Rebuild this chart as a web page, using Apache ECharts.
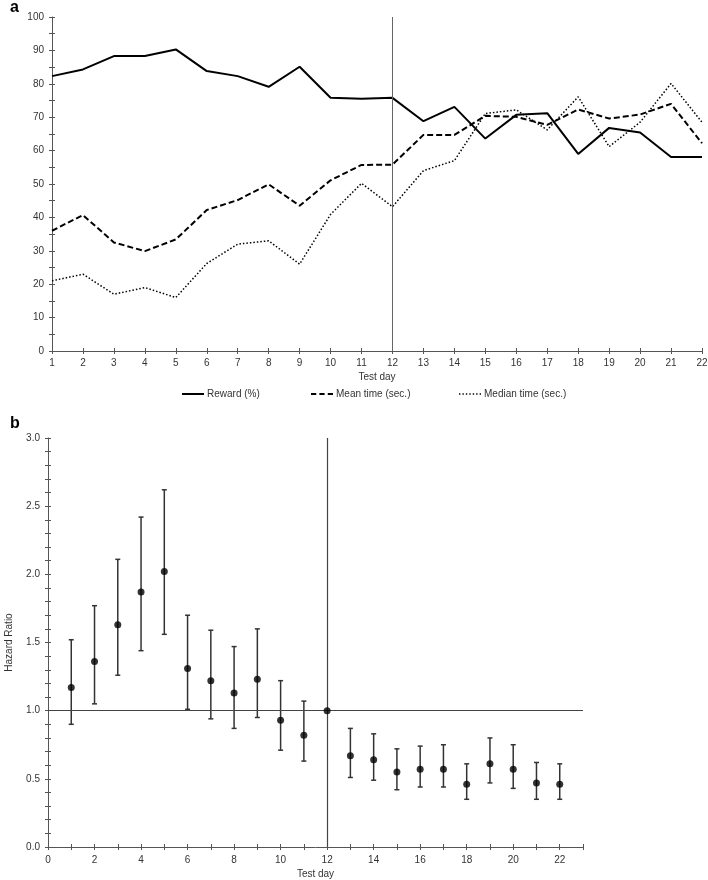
<!DOCTYPE html>
<html>
<head>
<meta charset="utf-8">
<script src="https://cdn.jsdelivr.net/npm/echarts@6/dist/echarts.min.js"></script>
<style>html,body{margin:0;padding:0;background:#fff}#c{width:708px;height:880px}</style>
</head>
<body>
<div id="c"></div>
<script>
// Panel a data
var days = ['1','2','3','4','5','6','7','8','9','10','11','12','13','14','15','16','17','18','19','20','21','22'];
var reward = [82.3,84.3,88.3,88.3,90.3,83.8,82.3,79.1,85.1,75.8,75.5,75.8,68.8,73.1,63.6,70.7,71.2,59.0,66.8,65.4,58.1,58.1];
var meanTime = [36.0,40.7,32.5,29.9,33.4,42.2,45.2,49.9,43.5,51.1,55.7,55.8,64.7,64.7,70.4,70.1,67.7,72.3,69.6,70.8,74.0,62.2];
var medianTime = [21.0,23.0,17.0,19.0,16.0,26.2,32.0,33.0,26.0,40.9,50.2,43.2,54.0,57.0,71.1,72.2,66.2,76.1,61.2,68.5,80.1,68.5];
// Panel b data
var hrDays = [1,2,3,4,5,6,7,8,9,10,11,12,13,14,15,16,17,18,19,20,21,22];
var hr =      [1.17,1.36,1.63,1.87,2.02,1.31,1.22,1.13,1.23,0.93,0.82,1.00,0.67,0.64,0.55,0.57,0.57,0.46,0.61,0.57,0.47,0.46];
var hrLower = [0.90,1.05,1.26,1.44,1.56,1.01,0.94,0.87,0.95,0.71,0.63,null,0.51,0.49,0.42,0.44,0.44,0.35,0.47,0.43,0.35,0.35];
var hrUpper = [1.52,1.77,2.11,2.42,2.62,1.70,1.59,1.47,1.60,1.22,1.07,null,0.87,0.83,0.72,0.74,0.75,0.61,0.80,0.75,0.62,0.61];

var FONT = 'Liberation Sans, Arial, sans-serif';
var AX = '#555';
var LBL = {color:'#333', fontSize:10, fontFamily:FONT};
var NAME = {color:'#333', fontSize:10, fontFamily:FONT};

var chart = echarts.init(document.getElementById('c'));

var errData = [];
for (var i=0;i<hrDays.length;i++){ if (hrLower[i]!=null) errData.push([hrDays[i], hrLower[i], hrUpper[i]]); }
var hrData = hrDays.map(function(d,i){return [d, hr[i]];});

function crossCopy(ax, pos){
  var c = {};
  for (var k in ax) c[k] = ax[k];
  delete c.name;
  c.position = pos;
  c.axisLabel = {show:false};
  c.axisLine = {show:false};
  c.axisTick = {show:true, inside:true, length:3, lineStyle:{color:AX}};
  return c;
}

var xa0 = {gridIndex:0, type:'category', data:days, boundaryGap:false, position:'bottom',
  axisLine:{lineStyle:{color:AX, width:1}}, axisTick:{length:3, lineStyle:{color:AX}},
  axisLabel:Object.assign({margin:7, interval:0}, LBL), splitLine:{show:false},
  name:'Test day', nameLocation:'middle', nameGap:21, nameTextStyle:NAME};
var ya0 = {gridIndex:0, type:'value', min:0, max:100, interval:5, position:'left',
  axisLine:{show:true, lineStyle:{color:AX}}, axisTick:{show:true, length:3, lineStyle:{color:AX}},
  axisLabel:Object.assign({margin:8, formatter:function(v){return v%10===0? v : '';}}, LBL), splitLine:{show:false}};
var xa1 = {gridIndex:1, type:'value', min:0, max:23, interval:1, position:'bottom',
  axisLine:{lineStyle:{color:AX}}, axisTick:{length:3, lineStyle:{color:AX}},
  axisLabel:Object.assign({margin:8, formatter:function(v){return (v%2===0 && v<23)? v : '';}}, LBL), splitLine:{show:false},
  name:'Test day', nameLocation:'middle', nameGap:22, nameTextStyle:NAME};
var ya1 = {gridIndex:1, type:'value', min:0, max:3, interval:0.1, position:'left',
  axisLine:{show:true, lineStyle:{color:AX}}, axisTick:{show:true, length:3, lineStyle:{color:AX}},
  axisLabel:Object.assign({margin:8, formatter:function(v){var r=Math.round(v*10); return r%5===0? (r/10).toFixed(1) : '';}}, LBL), splitLine:{show:false},
  name:'Hazard Ratio', nameLocation:'middle', nameGap:34, nameRotate:90, nameTextStyle:NAME};

var ICON_SOLID = 'path://M0,0h22v2h-22z';
var ICON_DASH = 'path://M0,0h5v2h-5zM8,0h5v2h-5zM16,0h5v2h-5z';
var ICON_DOT = 'path://M0,0h1.2v1.2h-1.2zM3,0h1.2v1.2h-1.2zM6,0h1.2v1.2h-1.2zM9,0h1.2v1.2h-1.2zM12,0h1.2v1.2h-1.2zM15,0h1.2v1.2h-1.2zM18,0h1.2v1.2h-1.2z';

function leg(name, icon, left){
  return {left:left, top:389, itemWidth:22, itemHeight:10, itemGap:0, padding:0,
    textStyle:{color:'#333', fontSize:10, fontFamily:FONT, padding:[0,0,0,-2]},
    data:[{name:name, icon:icon}]};
}

chart.setOption({
  animation:false,
  textStyle:{fontFamily:FONT},
  graphic:[
    {type:'text', left:10, top:0, style:{text:'a', font:'bold 16px '+FONT, fill:'#000'}},
    {type:'text', left:10, top:416, style:{text:'b', font:'bold 16px '+FONT, fill:'#000'}}
  ],
  grid:[
    {left:52, top:17, width:650, height:334, outerBoundsMode:'none', containLabel:false},
    {left:48, top:438, width:535, height:409, outerBoundsMode:'none', containLabel:false}
  ],
  legend:[leg('Reward (%)',ICON_SOLID,182), leg('Mean time (sec.)',ICON_DASH,311), leg('Median time (sec.)',ICON_DOT,459)],
  xAxis:[xa0, xa1, crossCopy(xa0,'bottom'), crossCopy(xa1,'bottom')],
  yAxis:[ya0, ya1, crossCopy(ya0,'left'), crossCopy(ya1,'left')],
  series:[
    {name:'Reward (%)', type:'line', xAxisIndex:0, yAxisIndex:0, data:reward, symbol:'none',
      lineStyle:{color:'#000', width:2, type:'solid'}, itemStyle:{color:'#000'},
      markLine:{silent:true, symbol:'none', label:{show:false}, lineStyle:{color:'#666', width:1, type:'solid'}, data:[{xAxis:'12'}]}},
    {name:'Mean time (sec.)', type:'line', xAxisIndex:0, yAxisIndex:0, data:meanTime, symbol:'none',
      lineStyle:{color:'#000', width:2, type:[6,3]}, itemStyle:{color:'#000'}},
    {name:'Median time (sec.)', type:'line', xAxisIndex:0, yAxisIndex:0, data:medianTime, symbol:'none',
      lineStyle:{color:'#000', width:1.5, type:[1.5,2]}, itemStyle:{color:'#000'}},
    {type:'custom', xAxisIndex:1, yAxisIndex:1, data:errData, silent:true,
      renderItem:function(params, api){
        var x = api.value(0);
        var lo = api.coord([x, api.value(1)]);
        var hi = api.coord([x, api.value(2)]);
        var w = 2.5;
        var st = {stroke:'#333', lineWidth:1.5};
        return {type:'group', children:[
          {type:'line', shape:{x1:lo[0], y1:lo[1], x2:hi[0], y2:hi[1]}, style:st},
          {type:'line', shape:{x1:lo[0]-w, y1:lo[1], x2:lo[0]+w, y2:lo[1]}, style:st},
          {type:'line', shape:{x1:hi[0]-w, y1:hi[1], x2:hi[0]+w, y2:hi[1]}, style:st}
        ]};
      }},
    {type:'scatter', xAxisIndex:1, yAxisIndex:1, data:hrData, symbol:'circle', symbolSize:7,
      itemStyle:{color:'#000'}, z:5,
      markLine:{silent:true, symbol:'none', label:{show:false}, lineStyle:{color:'#444', width:1.2, type:'solid'},
        data:[{yAxis:1}, {xAxis:12}]}}
  ]
});
</script>
</body>
</html>
